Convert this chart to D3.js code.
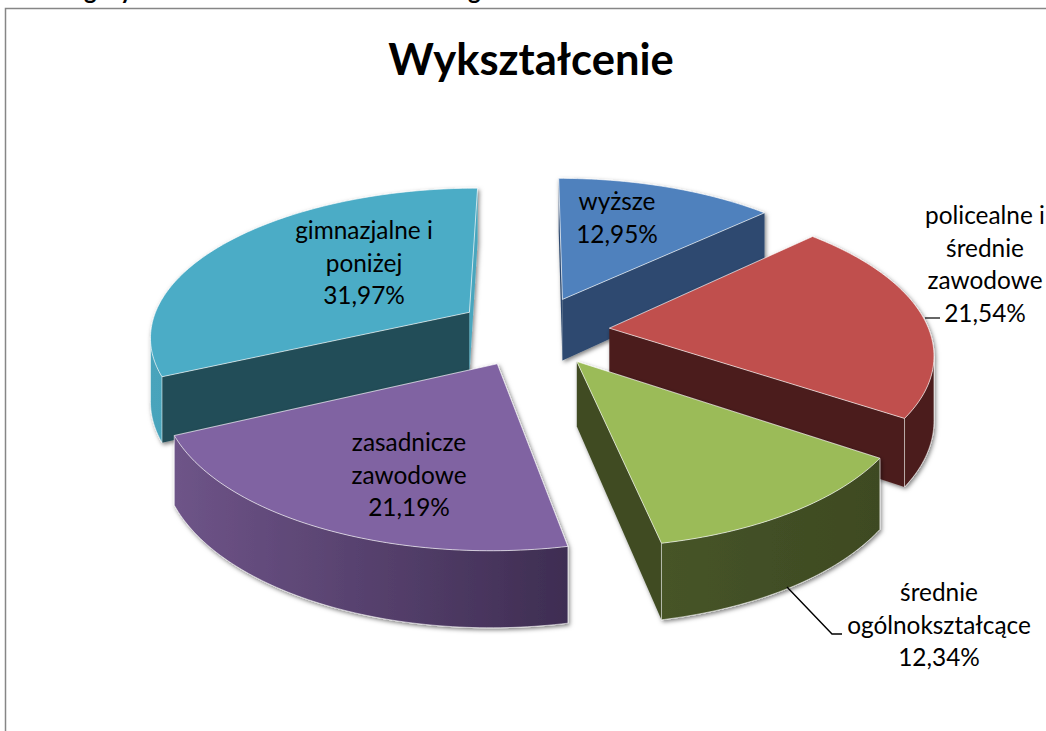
<!DOCTYPE html>
<html>
<head>
<meta charset="utf-8">
<script src="https://d3js.org/d3.v7.min.js"></script>
<style>
  html, body { margin: 0; padding: 0; background: #fff; }
  svg { display: block; }
  text { font-family: Lato, "Open Sans", sans-serif; fill: #000; }
</style>
</head>
<body>
<svg id="chart" width="1046" height="731"></svg>
<script>
var chartTitle = "Wykształcenie";
var categories = ["wyższe", "policealne i średnie zawodowe", "średnie ogólnokształcące", "zasadnicze zawodowe", "gimnazjalne i poniżej"];
var shares = [12.95, 21.54, 12.34, 21.19, 31.97];
var shareLabels = ["12,95%", "21,54%", "12,34%", "21,19%", "31,97%"];
var labelLines = [["wyższe"], ["policealne i", "średnie", "zawodowe"], ["średnie", "ogólnokształcące"], ["zasadnicze", "zawodowe"], ["gimnazjalne i", "poniżej"]];
var topColors = ["#4f81bd", "#c0504d", "#9bbb59", "#8064a2", "#4bacc6"];
var faceColors = ["#2d4a70", "#4c1f1e", "#3f4b22", "#4a3660", "#204e58"];
var rimColors = [["#2d4a70", "#2d4a70"], ["#4c1f1e", "#4c1f1e"], ["#465428", "#3e4a22"], ["#6e5488", "#3e2d52"], ["#48a4bc", "#3c93aa"]];

var svg = d3.select("#chart"),
    cx = 533, cy = 331,      // pie centre on the page
    rx = 320, ry = 148,      // radius across and into the page
    persp = 0.15,            // how fast things grow towards the viewer
    explode = 0.24,
    depth = 63;

// ground plane -> screen
function project(x, y, down) {
  var s = 1 / (1 - persp * y);
  return [cx + rx * x * s, cy + ry * y * s + (down ? depth * s : 0)];
}

function pointOn(d, angle, r, down) {
  var mid = (d.startAngle + d.endAngle) / 2;
  return project(
    explode * Math.sin(mid) + r * Math.sin(angle),
    -explode * Math.cos(mid) - r * Math.cos(angle),
    down);
}

var line = d3.line();
var pie = d3.pie().sort(null).value(function(d) { return d; });
var arcs = pie(shares);

var defs = svg.append("defs");
var shadow = defs.append("filter").attr("id", "soft").attr("x", "-10%").attr("y", "-10%").attr("width", "120%").attr("height", "120%");
shadow.append("feDropShadow").attr("dx", 1.5).attr("dy", 2).attr("stdDeviation", 2).attr("flood-color", "#000").attr("flood-opacity", 0.5);

rimColors.forEach(function(c, i) {
  var pts = d3.range(0, 1.01, 0.02).map(function(t) {
    return pointOn(arcs[i], arcs[i].startAngle + t * (arcs[i].endAngle - arcs[i].startAngle), 1, false);
  });
  var ext = d3.extent(pts, function(p) { return p[0]; });
  var g = defs.append("linearGradient").attr("id", "rim" + i)
      .attr("gradientUnits", "userSpaceOnUse")
      .attr("x1", ext[0]).attr("x2", ext[1]).attr("y1", 0).attr("y2", 0);
  g.append("stop").attr("offset", 0).attr("stop-color", c[0]);
  g.append("stop").attr("offset", 1).attr("stop-color", c[1]);
});

// page frame
svg.append("path")
  .attr("d", "M5.5,731V8.5H1046")
  .attr("fill", "none").attr("stroke", "#868686").attr("stroke-width", 1.5);

// descenders of the caption cut off by the top of the page
svg.append("text").attr("x", 84).attr("y", -1).style("font-size", "24px").style("font-weight", 700).text("g");
svg.append("text").attr("x", 120).attr("y", -1).style("font-size", "24px").style("font-weight", 700).text("y");
svg.append("text").attr("x", 468).attr("y", -1).style("font-size", "24px").style("font-weight", 700).text("g");

svg.append("text")
  .attr("x", 531).attr("y", 75)
  .attr("text-anchor", "middle")
  .style("font-size", "43.5px").style("font-weight", 700)
  .text(chartTitle);

// back slices first so the nearer ones lie on top
var drawOrder = [0, 4, 1, 3, 2];

drawOrder.forEach(function(i) {
  var d = arcs[i];
  var g = svg.append("g").attr("class", "slice").attr("filter", "url(#soft)");
  var apexT = pointOn(d, 0, 0, false), apexB = pointOn(d, 0, 0, true);

  // flat cut faces, only those turned to the viewer
  [d.startAngle, d.endAngle].forEach(function(a, k) {
    var t = pointOn(d, a, 1, false), b = pointOn(d, a, 1, true);
    var quad = k === 0 ? [apexT, t, b, apexB] : [t, apexT, apexB, b];
    if (d3.polygonArea(quad) < 0) return;
    g.append("path")
      .attr("d", line(quad) + "Z")
      .attr("fill", i === 4 && k === 1 ? "#4aa6be" : faceColors[i]);
  });

  // outer rim, only the run of steps facing the viewer
  var steps = d3.range(d.startAngle, d.endAngle, Math.PI / 180).concat([d.endAngle]);
  var run = [];
  for (var s = 0; s < steps.length - 1; s++) {
    var t0 = pointOn(d, steps[s], 1, false), t1 = pointOn(d, steps[s + 1], 1, false),
        b0 = pointOn(d, steps[s], 1, true), b1 = pointOn(d, steps[s + 1], 1, true);
    if (d3.polygonArea([t0, t1, b1, b0]) > 0) run.push(s);
  }
  if (run.length) {
    var ids = run.concat([run[run.length - 1] + 1]);
    var upper = ids.map(function(s) { return pointOn(d, steps[s], 1, false); });
    var lower = ids.map(function(s) { return pointOn(d, steps[s], 1, true); });
    g.append("path")
      .attr("d", line(upper.concat(lower.slice().reverse())) + "Z")
      .attr("fill", "url(#rim" + i + ")");
    // thin light bevel along the bottom and down the corners
    g.append("path")
      .attr("d", line(lower))
      .attr("fill", "none").attr("stroke", "#fff").attr("stroke-opacity", 0.55);
    [0, ids.length - 1].forEach(function(n) {
      g.append("path")
        .attr("d", line([upper[n], lower[n]]))
        .attr("fill", "none").attr("stroke", "#fff").attr("stroke-opacity", 0.55);
    });
  }

  // top face
  var rim = steps.map(function(a) { return pointOn(d, a, 1, false); });
  g.append("path")
    .attr("d", line([apexT].concat(rim)) + "Z")
    .attr("fill", topColors[i])
    .attr("stroke", "#fff").attr("stroke-opacity", 0.65).attr("stroke-width", 1);
});

// leader lines
svg.append("path")
  .attr("d", "M925,318H940")
  .attr("fill", "none").attr("stroke", "#000").attr("stroke-width", 1.2);
svg.append("path")
  .attr("d", "M787,587L832,634H842")
  .attr("fill", "none").attr("stroke", "#000").attr("stroke-width", 1.4);

// data labels
var labelPos = [[617, 210], [985, 224], [939, 601], [409, 451], [364, 239]];
labelLines.forEach(function(lines, i) {
  var rows = lines.concat([shareLabels[i]]);
  var label = svg.append("text").attr("class", "label").attr("text-anchor", "middle").style("font-size", "24.4px");
  rows.forEach(function(r, k) {
    label.append("tspan").attr("x", labelPos[i][0]).attr("y", labelPos[i][1] + k * 32.5).text(r);
  });
});
</script>
</body>
</html>
